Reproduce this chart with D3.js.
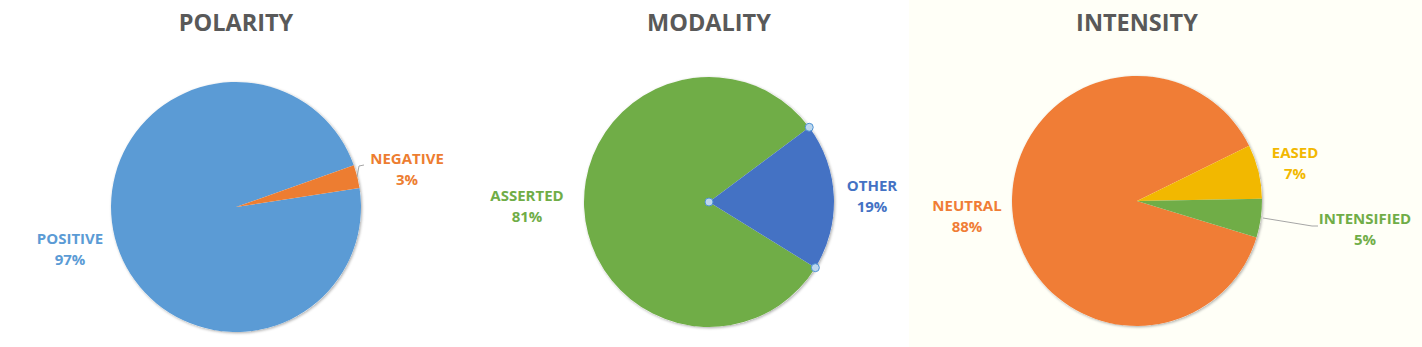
<!DOCTYPE html>
<html>
<head>
<meta charset="utf-8">
<script src="https://cdn.jsdelivr.net/npm/d3@7"></script>
<style>
  body { margin: 0; background: #fff; }
  svg { display: block; font-family: "Open Sans", "Liberation Sans", sans-serif; }
</style>
</head>
<body>
<svg id="chart" width="1422" height="347"></svg>
<script>
// chart data
var titles = ["POLARITY", "MODALITY", "INTENSITY"];
var polarityLabels = ["POSITIVE", "NEGATIVE"];
var polarityValues = [97, 3];
var modalityLabels = ["ASSERTED", "OTHER"];
var modalityValues = [81, 19];
var intensityLabels = ["NEUTRAL", "EASED", "INTENSIFIED"];
var intensityValues = [88, 7, 5];

var panels = [
  { title: titles[0], labels: polarityLabels, values: polarityValues,
    colors: ["#5B9BD5", "#ED7D31"], cx: 236, cy: 207, start: 81.3,
    titleX: 236, lab: [[70, 239], [407, 159]] },
  { title: titles[1], labels: modalityLabels, values: modalityValues,
    colors: ["#70AD47", "#4472C4"], cx: 709, cy: 202, start: 121.7,
    titleX: 709, lab: [[527, 196], [872, 186]] },
  { title: titles[2], labels: intensityLabels, values: intensityValues,
    colors: ["#F07D36", "#F2B800", "#70AD47"], cx: 1137, cy: 201, start: 107,
    titleX: 1137, lab: [[967, 206], [1295, 153], [1365, 219]] }
];

var svg = d3.select("#chart");
var R = 125;

var defs = svg.append("defs");
var f = defs.append("filter").attr("id", "shadow").attr("x", "-10%").attr("y", "-10%")
  .attr("width", "120%").attr("height", "120%");
f.append("feGaussianBlur").attr("in", "SourceAlpha").attr("stdDeviation", 1.5);
f.append("feOffset").attr("dx", 1).attr("dy", 1).attr("result", "b");
f.append("feComponentTransfer").append("feFuncA").attr("type", "linear").attr("slope", 0.35);
var m = f.append("feMerge");
m.append("feMergeNode");
m.append("feMergeNode").attr("in", "SourceGraphic");

// light background behind third chart
svg.append("rect").attr("x", 909).attr("y", 0).attr("width", 513).attr("height", 347)
  .attr("fill", "#FFFFF7");

var arc = d3.arc().innerRadius(0).outerRadius(R);

panels.forEach(function(p, pi) {
  var g = svg.append("g").attr("transform", "translate(" + p.cx + "," + p.cy + ")");
  var s = p.start * Math.PI / 180;
  var pie = d3.pie().sort(null).startAngle(s).endAngle(s + 2 * Math.PI);
  var arcs = pie(p.values);

  g.append("circle").attr("r", R).attr("fill", "#fff").attr("filter", "url(#shadow)");
  g.selectAll("path.slice").data(arcs).enter().append("path")
    .attr("class", "slice")
    .attr("d", arc)
    .attr("fill", function(d, i) { return p.colors[i]; });

  svg.append("text")
    .attr("x", p.titleX).attr("y", 31)
    .attr("text-anchor", "middle")
    .attr("font-size", 23.5).attr("font-weight", 700)
    .attr("fill", "#595959")
    .text(p.title);

  p.labels.forEach(function(name, i) {
    var t = svg.append("text")
      .attr("text-anchor", "middle")
      .attr("font-size", 15).attr("font-weight", 700)
      .attr("fill", p.colors[i]);
    t.append("tspan").attr("x", p.lab[i][0]).attr("y", p.lab[i][1] + 5).text(name);
    t.append("tspan").attr("x", p.lab[i][0]).attr("y", p.lab[i][1] + 26).text(p.values[i] + "%");
  });

  // selection handles on the modality "other" slice
  if (pi === 1) {
    var sl = arcs[1];
    var pts = [[0, 0],
      [R * Math.sin(sl.startAngle), -R * Math.cos(sl.startAngle)],
      [R * Math.sin(sl.endAngle), -R * Math.cos(sl.endAngle)]];
    g.selectAll("circle.handle").data(pts).enter().append("circle")
      .attr("class", "handle")
      .attr("cx", function(d) { return d[0]; })
      .attr("cy", function(d) { return d[1]; })
      .attr("r", 4)
      .attr("fill", "#BDD7EE").attr("stroke", "#4F93D4").attr("stroke-width", 1);
  }
});

// leader lines
var line = d3.line();
svg.append("path").attr("d", line([[357, 177], [359, 166], [364, 165]]))
  .attr("fill", "none").attr("stroke", "#A6A6A6").attr("stroke-width", 1);
svg.append("path").attr("d", line([[1263, 218], [1312, 226], [1318, 226]]))
  .attr("fill", "none").attr("stroke", "#A6A6A6").attr("stroke-width", 1);
</script>
</body>
</html>
